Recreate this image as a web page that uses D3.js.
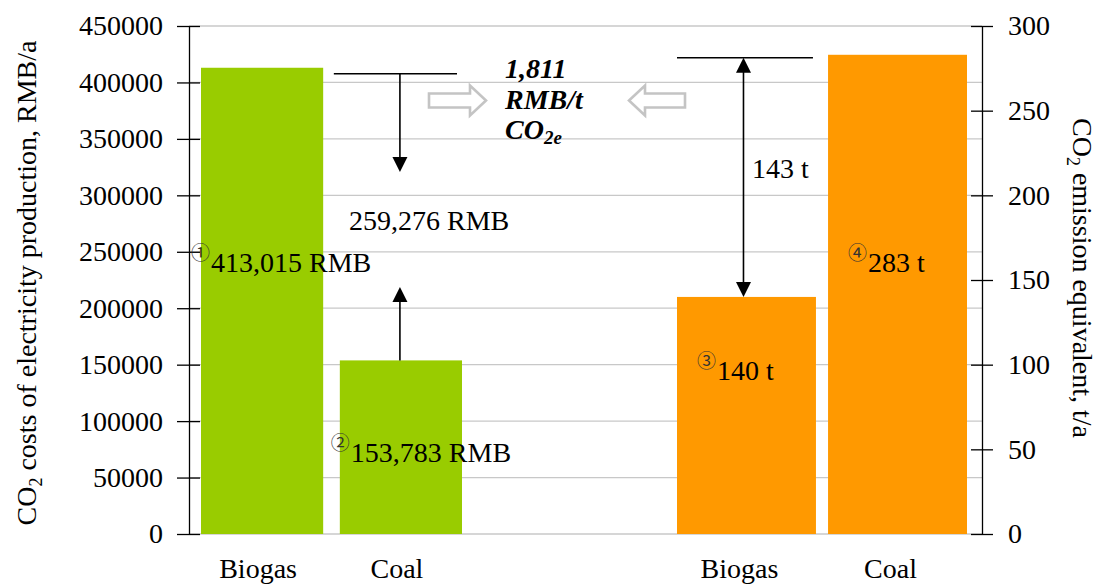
<!DOCTYPE html>
<html>
<head>
<meta charset="utf-8">
<script src="https://cdn.jsdelivr.net/npm/d3@7"></script>
<style>
  html, body { margin: 0; padding: 0; background: #fff; }
  svg { display: block; }
  svg text { font-family: "Liberation Serif", "DejaVu Serif", serif; fill: #000; }
  svg text.mark { font-family: "Noto Sans CJK SC", "Noto Sans CJK JP", sans-serif; fill: #333; }
</style>
</head>
<body>
<svg id="chart" width="1097" height="586"></svg>
<script>
// ---- data ----
const categories = ["Biogas", "Coal"];
const costValues = [413015, 153783];          // RMB/a, left axis
const emissionValues = [140, 283];             // t/a, right axis
const costLabels = ["413,015 RMB", "153,783 RMB"];
const emissionLabels = ["140 t", "283 t"];
const markers = ["\u2460", "\u2461", "\u2462", "\u2463"];
const costTicks = [0, 50000, 100000, 150000, 200000, 250000, 300000, 350000, 400000, 450000];
const emissionTicks = [0, 50, 100, 150, 200, 250, 300];
const costDiffLabel = "259,276 RMB";
const emissionDiffLabel = "143 t";
const priceLines = ["1,811", "RMB/t"];

// ---- layout ----
const plotTop = 26, plotBottom = 534;
const axisLeftX = 189, axisRightX = 982;
const green = "#99CC00", orange = "#FF9900", grid = "#c8c8c8";
const fs = 28;

const svg = d3.select("#chart");

const yL = d3.scaleLinear().domain([0, 450000]).range([plotBottom, plotTop]);
const yR = d3.scaleLinear().domain([0, 300]).range([plotBottom, plotTop]);
const xL = d3.scaleBand().domain(categories).range([201, 462]).paddingInner(0.12);
const xR = d3.scaleBand().domain(categories).range([677, 967]).paddingInner(0.08);

// gridlines
svg.append("g").selectAll("line").data(costTicks).join("line")
  .attr("x1", axisLeftX).attr("x2", axisRightX)
  .attr("y1", d => yL(d)).attr("y2", d => yL(d))
  .attr("stroke", grid).attr("stroke-width", 1.3);

// bars
svg.append("g").selectAll("rect").data(categories).join("rect")
  .attr("x", d => xL(d)).attr("width", xL.bandwidth())
  .attr("y", (d, i) => yL(costValues[i]))
  .attr("height", (d, i) => yL(0) - yL(costValues[i]))
  .attr("fill", green);
svg.append("g").selectAll("rect").data(categories).join("rect")
  .attr("x", d => xR(d)).attr("width", xR.bandwidth())
  .attr("y", (d, i) => yR(emissionValues[i]))
  .attr("height", (d, i) => yR(0) - yR(emissionValues[i]))
  .attr("fill", orange);

// axes
function styleAxis(g, side) {
  g.attr("font-family", null);
  g.select(".domain").attr("stroke", "#000").attr("stroke-width", 1.3);
  g.selectAll(".tick line").attr("stroke", "#000").attr("stroke-width", 1.3)
    .attr("x1", side === "left" ? 11 : -11);
  g.selectAll(".tick text").attr("font-size", fs).attr("fill", "#000");
}
const gL = svg.append("g").attr("transform", `translate(${axisLeftX},0)`)
  .call(d3.axisLeft(yL).tickValues(costTicks).tickFormat(d3.format("d")).tickSizeInner(12).tickSizeOuter(0).tickPadding(14));
styleAxis(gL, "left");
const gR = svg.append("g").attr("transform", `translate(${axisRightX},0)`)
  .call(d3.axisRight(yR).tickValues(emissionTicks).tickFormat(d3.format("d")).tickSizeInner(11).tickSizeOuter(0).tickPadding(15));
styleAxis(gR, "right");

// category labels
const catG = svg.append("g").attr("font-size", fs).attr("text-anchor", "middle");
categories.forEach(c => {
  catG.append("text").attr("x", xL(c) + xL.bandwidth() / 2 - 4).attr("y", 578).text(c);
  catG.append("text").attr("x", xR(c) + xR.bandwidth() / 2 - 7).attr("y", 578).text(c);
});

// axis titles
const tL = svg.append("text").attr("font-size", fs).attr("text-anchor", "middle")
  .attr("transform", `translate(36,283) rotate(-90)`);
tL.append("tspan").text("CO");
tL.append("tspan").attr("font-size", 18).attr("dy", 6).text("2");
tL.append("tspan").attr("dy", -6).text(" costs of electricity production, RMB/a");

const tR = svg.append("text").attr("font-size", fs).attr("text-anchor", "middle")
  .attr("transform", `translate(1073,278) rotate(90)`);
tR.append("tspan").text("CO");
tR.append("tspan").attr("font-size", 18).attr("dy", 6).text("2");
tR.append("tspan").attr("dy", -6).text(" emission equivalent, t/a");

// value labels with circled markers
function valueLabel(x, y, mark, txt) {
  svg.append("text").attr("class", "mark").attr("x", x - 20).attr("y", y - 12)
    .attr("font-size", 19).text(mark);
  svg.append("text").attr("x", x).attr("y", y).attr("font-size", fs).text(txt);
}
valueLabel(xL("Biogas") + 10, 272, markers[0], costLabels[0]);
valueLabel(xL("Coal") + 11, 462, markers[1], costLabels[1]);
valueLabel(xR("Biogas") + 40, 380, markers[2], emissionLabels[0]);
valueLabel(xR("Coal") + 40, 272, markers[3], emissionLabels[1]);

// arrowhead helper
function head(x, tipY, dir) {
  const h = 15, w = 7.5;
  return `M${x},${tipY} L${x - w},${tipY - dir * h} L${x + w},${tipY - dir * h} Z`;
}
const ann = svg.append("g").attr("stroke", "#000").attr("stroke-width", 1.6);

// cost difference
const cx = xL("Coal") + xL.bandwidth() / 2 - 1;
const refL = yL(costValues[0]) + 6;
ann.append("line").attr("x1", xL("Coal") - 6).attr("x2", xL("Coal") + xL.bandwidth() - 5)
  .attr("y1", refL).attr("y2", refL);
ann.append("line").attr("x1", cx).attr("x2", cx).attr("y1", refL).attr("y2", 160);
ann.append("path").attr("d", head(cx, 172, 1)).attr("fill", "#000").attr("stroke", "none");
ann.append("line").attr("x1", cx).attr("x2", cx).attr("y1", yL(costValues[1])).attr("y2", 300);
ann.append("path").attr("d", head(cx, 287, -1)).attr("fill", "#000").attr("stroke", "none");
svg.append("text").attr("x", 349).attr("y", 230).attr("font-size", fs).text(costDiffLabel);

// emission difference
const ex = xR("Biogas") + xR.bandwidth() / 2 - 3;
const refR = yR(emissionValues[1]) + 3;
ann.append("line").attr("x1", xR("Biogas")).attr("x2", xR("Biogas") + xR.bandwidth() - 3)
  .attr("y1", refR).attr("y2", refR);
ann.append("line").attr("x1", ex).attr("x2", ex).attr("y1", refR + 10).attr("y2", yR(emissionValues[0]) - 10);
ann.append("path").attr("d", head(ex, refR, -1)).attr("fill", "#000").attr("stroke", "none");
ann.append("path").attr("d", head(ex, yR(emissionValues[0]), 1)).attr("fill", "#000").attr("stroke", "none");
svg.append("text").attr("x", 752).attr("y", 178).attr("font-size", fs).text(emissionDiffLabel);

// hollow block arrows pointing to the price label
const blk = svg.append("g").attr("fill", "#fff").attr("stroke", "#c4c4c4").attr("stroke-width", 2.6);
blk.append("path").attr("d", "M429,93.5 H470 V85.5 L486,100.5 L470,115.5 V107.5 H429 Z");
blk.append("path").attr("d", "M685,93.5 H645 V85.5 L629,100.5 L645,115.5 V107.5 H685 Z");

// specific abatement cost label
const pg = svg.append("g").attr("font-size", fs).attr("font-weight", "bold").attr("font-style", "italic");
pg.append("text").attr("x", 505).attr("y", 78).text(priceLines[0]);
pg.append("text").attr("x", 505).attr("y", 109).text(priceLines[1]);
const co = pg.append("text").attr("x", 505).attr("y", 139);
co.append("tspan").text("CO");
co.append("tspan").attr("font-size", 19).attr("dy", 5).text("2e");
</script>
</body>
</html>
